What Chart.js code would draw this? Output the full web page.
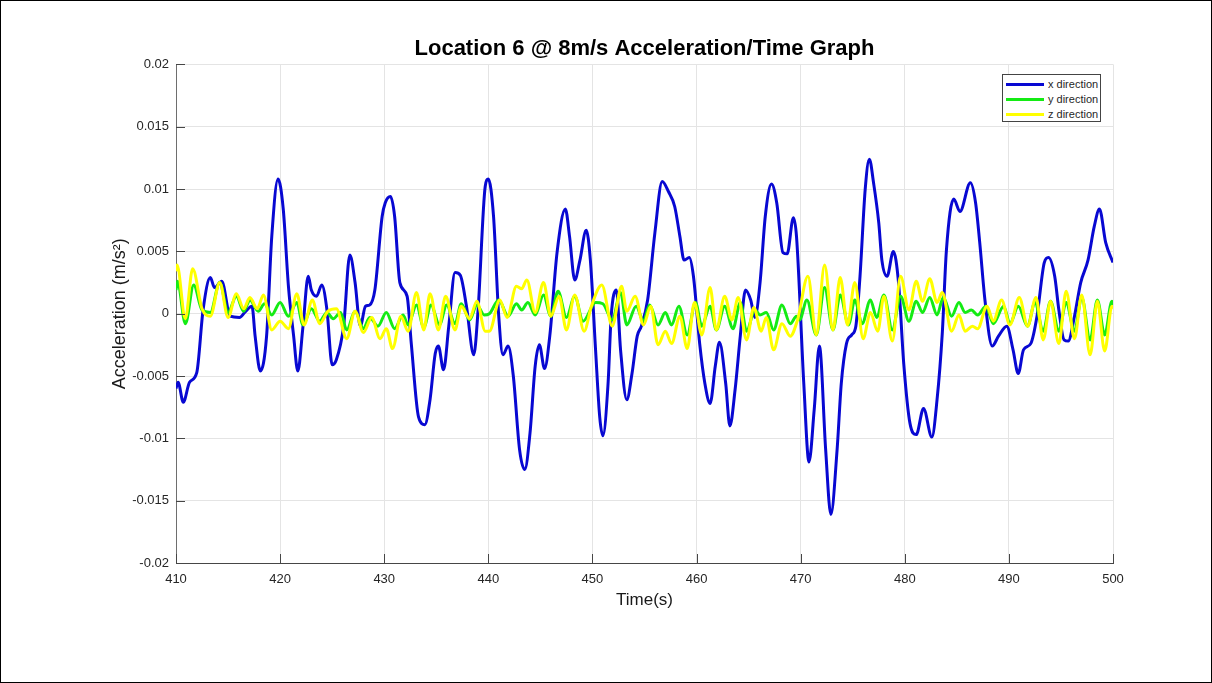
<!DOCTYPE html>
<html>
<head>
<meta charset="utf-8">
<script src="https://cdn.jsdelivr.net/npm/chart.js@4.4.1/dist/chart.umd.min.js"></script>
<style>
  html, body { margin: 0; padding: 0; background: #fff; }
  #wrap { position: relative; width: 1212px; height: 683px; overflow: hidden; }
  #frame { position: absolute; left: 0; top: 0; width: 1210px; height: 681px; border: 1px solid #000; pointer-events: none; }
  #legend { position: absolute; left: 1002px; top: 74px; width: 97px; height: 46px; border: 1px solid #444; background: #fff;
            font-family: 'Liberation Sans', Arial, Helvetica, sans-serif; font-size: 11px; color: #262626; }
  .item { position: absolute; left: 3px; height: 14px; line-height: 14px; white-space: nowrap; }
  .swatch { display: inline-block; width: 38px; height: 3px; vertical-align: middle; margin-right: 4px; position: relative; top: -1px; }
</style>
</head>
<body>
<div id="wrap">
  <canvas id="c" width="1212" height="683"></canvas>
  <div id="legend"></div>
  <div id="frame"></div>
</div>
<script>
// ---------------- data ----------------
const chartTitle = 'Location 6 @ 8m/s Acceleration/Time Graph';
const xAxisTitle = 'Time(s)';
const yAxisTitle = 'Acceleration (m/s\u00B2)';
const seriesNames = ['x direction', 'y direction', 'z direction'];
const seriesColors = ['rgb(8,8,210)', 'rgb(20,235,20)', 'rgb(255,255,0)'];

const xDirTime = [410.0,410.2,410.7,411.3,412.0,412.6,413.3,413.7,414.4,415.2,416.1,416.6,417.3,417.6,418.1,418.7,419.2,419.8,420.3,420.8,421.3,421.7,422.2,422.7,423.0,423.5,424.0,424.5,425.0,425.4,426.1,426.7,427.2,427.7,428.2,428.6,429.1,429.8,430.1,430.6,431.0,431.5,432.2,432.6,433.3,433.9,434.4,434.9,435.2,435.7,436.2,436.8,437.3,437.9,438.6,439.0,439.7,440.0,440.5,441.0,441.4,441.9,442.4,443.0,443.5,444.0,444.5,444.9,445.4,445.9,446.6,447.4,447.8,448.3,448.8,449.4,449.8,450.3,450.7,451.0,451.5,451.8,452.3,452.7,453.3,453.8,454.3,454.7,455.3,456.0,456.7,457.3,457.9,458.4,458.8,459.3,459.7,460.3,460.8,461.3,461.8,462.2,462.8,463.2,463.7,464.2,464.7,465.2,465.6,466.1,466.6,467.2,467.7,468.3,468.7,469.3,469.6,470.3,470.8,471.3,471.8,472.4,472.9,473.5,473.9,474.4,474.9,475.3,475.7,476.2,476.6,477.0,477.5,477.8,478.3,478.9,479.4,479.9,480.5,481.1,481.8,482.6,483.1,483.6,484.0,484.7,485.3,486.3,486.8,487.2,487.7,488.4,489.0,489.8,490.4,490.9,491.4,492.1,492.7,493.4,493.8,494.4,494.8,495.3,495.7,496.3,496.9,497.6,498.2,498.7,499.3,500.0];
const xDirAccel = [-0.0060,-0.0055,-0.0071,-0.0055,-0.0047,0.0003,0.0029,0.0021,0.0026,-0.0002,-0.0003,0.0001,0.0006,-0.0018,-0.0046,-0.0018,0.0062,0.0108,0.0084,0.0022,-0.0018,-0.0046,-0.0010,0.0030,0.0019,0.0014,0.0023,0.0003,-0.0041,-0.0037,-0.0010,0.0047,0.0025,-0.0010,0.0006,0.0007,0.0019,0.0078,0.0089,0.0094,0.0078,0.0025,0.0014,-0.0024,-0.0083,-0.0089,-0.0069,-0.0032,-0.0026,-0.0045,-0.0010,0.0033,0.0031,0.0006,-0.0033,0.0001,0.0102,0.0108,0.0078,-0.0002,-0.0033,-0.0026,-0.0050,-0.0109,-0.0125,-0.0096,-0.0042,-0.0025,-0.0044,-0.0018,0.0049,0.0084,0.0062,0.0027,0.0043,0.0067,0.0043,-0.0029,-0.0083,-0.0098,-0.0056,-0.0002,0.0019,-0.0029,-0.0069,-0.0048,-0.0018,-0.0010,0.0011,0.0065,0.0106,0.0098,0.0086,0.0062,0.0043,0.0045,0.0030,-0.0024,-0.0056,-0.0072,-0.0042,-0.0023,-0.0056,-0.0090,-0.0061,-0.0018,0.0019,0.0011,-0.0003,0.0025,0.0078,0.0104,0.0089,0.0049,0.0048,0.0077,0.0062,-0.0056,-0.0119,-0.0077,-0.0026,-0.0109,-0.0161,-0.0109,-0.0056,-0.0024,-0.0017,-0.0010,0.0030,0.0100,0.0124,0.0105,0.0073,0.0043,0.0030,0.0050,0.0025,-0.0040,-0.0088,-0.0097,-0.0076,-0.0099,-0.0069,-0.0016,0.0051,0.0092,0.0082,0.0105,0.0089,0.0057,0.0011,-0.0026,-0.0018,-0.0010,-0.0029,-0.0048,-0.0029,-0.0024,-0.0002,0.0041,0.0045,0.0030,0.0003,-0.0021,-0.0022,-0.0002,0.0025,0.0043,0.0070,0.0084,0.0057,0.0041];

const yDirTime = [410.0,410.15,410.9,411.7,412.5,413.3,414.2,415.0,415.8,416.5,417.1,417.9,418.5,419.2,420.0,420.8,421.6,422.2,423.0,423.8,424.5,425.1,425.8,426.4,427.2,428.0,428.6,429.4,430.2,431.0,431.8,432.3,433.1,433.8,434.5,435.3,436.0,436.8,437.4,438.2,438.9,439.6,440.1,441.0,441.9,442.7,443.2,443.8,444.5,445.3,446.0,446.7,447.5,448.3,449.1,450.3,451.0,451.9,452.7,453.3,454.2,454.9,455.5,456.3,457.0,457.6,458.3,459.1,459.9,460.5,461.3,461.9,462.7,463.5,464.2,464.8,465.6,466.1,466.7,467.4,468.2,469.0,469.6,469.9,470.6,471.5,472.3,473.1,473.8,474.6,475.2,475.9,476.7,477.3,478.0,478.8,479.6,480.4,481.1,481.7,482.4,483.1,483.7,484.5,485.2,485.8,486.4,487.0,487.8,488.5,489.5,490.1,490.9,491.8,492.5,493.3,494.0,494.8,495.5,496.3,497.0,497.8,498.5,499.2,499.9,500.0];
const yDirAccel = [0.0019,0.0026,-0.0008,0.0023,0.0003,0.0001,0.0025,0.0001,0.0014,0.0002,0.0011,0.0002,0.0008,-0.0001,0.0009,-0.0002,0.0009,-0.0009,0.0004,-0.0006,0.0001,-0.0004,0.0001,-0.0013,0.0002,-0.0012,-0.0003,-0.0010,0.0001,-0.0012,-0.0001,-0.0009,0.0007,-0.0011,0.0007,-0.0009,0.0007,-0.0008,0.0008,-0.0005,0.0007,-0.0001,0.0000,0.0011,-0.0002,0.0008,0.0003,0.0009,-0.0001,0.0015,-0.0002,0.0018,-0.0003,0.0014,-0.0006,0.0009,0.0008,-0.0005,0.0017,-0.0009,0.0006,-0.0006,0.0007,-0.0009,0.0001,-0.0009,0.0006,-0.0017,0.0009,-0.0010,0.0006,-0.0013,0.0006,-0.0012,0.0009,-0.0014,0.0003,-0.0001,0.0001,-0.0013,0.0007,-0.0008,-0.0002,-0.0005,0.0011,-0.0017,0.0021,-0.0013,0.0015,-0.0009,0.0011,-0.0008,0.0011,-0.0003,0.0015,-0.0013,0.0014,-0.0006,0.0010,0.0001,0.0013,-0.0001,0.0013,-0.0002,0.0009,0.0001,0.0003,-0.0001,0.0006,-0.0008,0.0006,-0.0008,0.0006,-0.0010,0.0009,-0.0014,0.0010,-0.0014,0.0009,-0.0014,0.0013,-0.0021,0.0011,-0.0017,0.0010,0.0007];

const zDirTime = [410.0,410.1,410.9,411.6,412.5,413.3,414.2,415.0,415.8,416.5,417.1,417.8,418.4,419.2,420.0,420.8,421.6,422.3,423.1,423.8,424.6,425.4,426.4,427.2,428.0,428.8,429.6,430.2,430.8,431.6,432.3,433.1,433.8,434.4,435.2,435.9,436.8,437.4,438.2,438.9,439.7,440.1,441.1,441.8,442.7,443.2,443.7,444.5,445.3,446.0,446.8,447.5,448.3,449.2,449.9,450.9,451.9,452.8,453.3,454.1,454.9,455.6,456.3,457.0,457.6,458.4,459.1,459.8,460.5,461.3,461.9,462.7,463.4,464.0,464.8,465.5,466.2,466.7,467.4,468.2,469.0,469.7,470.7,471.5,472.3,473.1,473.8,474.5,475.2,476.0,476.7,477.4,478.0,478.8,479.6,480.4,481.1,481.7,482.4,483.1,483.6,484.5,485.2,485.8,486.5,487.0,487.9,488.5,489.3,490.1,491.0,491.8,492.6,493.3,494.0,494.8,495.5,496.3,497.0,497.8,498.5,499.2,499.9,500.0];
const zDirAccel = [0.0034,0.0039,-0.0004,0.0036,0.0004,-0.0002,0.0025,-0.0003,0.0016,0.0004,0.0013,0.0004,0.0015,-0.0013,-0.0006,-0.0012,0.0016,-0.0009,0.0011,-0.0008,0.0002,0.0004,-0.0020,0.0002,-0.0015,-0.0003,-0.0020,-0.0012,-0.0028,-0.0002,-0.0014,0.0017,-0.0013,0.0016,-0.0013,0.0014,-0.0013,0.0006,-0.0004,0.0010,-0.0014,-0.0014,0.0011,-0.0003,0.0022,0.0020,0.0027,0.0001,0.0025,-0.0002,0.0014,-0.0013,0.0015,-0.0014,0.0006,0.0023,-0.0010,0.0022,0.0002,0.0014,-0.0009,0.0006,-0.0025,-0.0014,-0.0024,-0.0002,-0.0028,0.0009,-0.0017,0.0021,-0.0013,0.0014,-0.0005,0.0013,-0.0021,0.0005,-0.0014,-0.0003,-0.0029,-0.0008,-0.0018,-0.0005,0.0030,-0.0017,0.0039,-0.0013,0.0029,-0.0009,0.0025,-0.0020,0.0001,-0.0014,0.0014,-0.0022,0.0030,0.0003,0.0026,0.0010,0.0028,0.0009,0.0017,-0.0014,-0.0001,-0.0014,-0.0010,-0.0012,0.0006,-0.0006,0.0011,-0.0009,0.0013,-0.0010,0.0013,-0.0021,0.0010,-0.0024,0.0018,-0.0020,0.0015,-0.0033,0.0010,-0.0030,0.0006,0.0004];

const xTickValues = [410, 420, 430, 440, 450, 460, 470, 480, 490, 500];
const yTickValues = [-0.02, -0.015, -0.01, -0.005, 0, 0.005, 0.01, 0.015, 0.02];

// ---------------- chart ----------------
const FONT = "'Liberation Sans', Arial, Helvetica, sans-serif";
const toPoints = (ts, vs) => ts.map((t, i) => ({ x: t, y: vs[i] }));
const seriesTimes = [xDirTime, yDirTime, zDirTime];
const seriesValues = [xDirAccel, yDirAccel, zDirAccel];

const datasets = seriesNames.map((name, i) => ({
  label: name,
  data: toPoints(seriesTimes[i], seriesValues[i]),
  borderColor: seriesColors[i],
  backgroundColor: seriesColors[i],
  borderWidth: 3,
  pointRadius: 0,
  cubicInterpolationMode: 'monotone',
  order: 3 - i
}));

const inwardTicks = {
  id: 'inwardTicks',
  afterDatasetsDraw(chart) {
    const { ctx, chartArea, scales } = chart;
    const len = 9;
    ctx.save();
    ctx.strokeStyle = 'rgb(70,70,70)';
    ctx.lineWidth = 1;
    ctx.beginPath();
    xTickValues.forEach(v => {
      const px = Math.round(scales.x.getPixelForValue(v)) + 0.5;
      ctx.moveTo(px, chartArea.bottom);
      ctx.lineTo(px, chartArea.bottom - len);
    });
    yTickValues.forEach(v => {
      const py = Math.round(scales.y.getPixelForValue(v)) + 0.5;
      ctx.moveTo(chartArea.left, py);
      ctx.lineTo(chartArea.left + len, py);
    });
    ctx.stroke();
    ctx.restore();
  }
};

new Chart(document.getElementById('c'), {
  type: 'line',
  data: { datasets },
  plugins: [inwardTicks],
  options: {
    responsive: false,
    animation: false,
    events: [],
    layout: { padding: { left: 0, top: 0, right: 99, bottom: 0 } },
    plugins: {
      legend: { display: false },
      tooltip: { enabled: false },
      title: {
        display: true,
        text: chartTitle,
        fullSize: false,
        color: '#000',
        font: { family: FONT, size: 22, weight: 'bold', lineHeight: 1.2 },
        padding: { top: 36, bottom: 2 }
      }
    },
    scales: {
      x: {
        type: 'linear',
        min: 410, max: 500,
        afterBuildTicks: s => { s.ticks = xTickValues.map(v => ({ value: v })); },
        afterFit: s => { s.height = 120; },
        ticks: { color: '#262626', font: { family: FONT, size: 13 }, padding: 9, maxRotation: 0, autoSkip: false },
        grid: { color: '#e4e4e4', drawTicks: false },
        border: { display: true, color: 'rgb(70,70,70)', width: 1 },
        title: { display: true, text: xAxisTitle, color: '#1a1a1a', font: { family: FONT, size: 17, lineHeight: 1.2 }, padding: { top: 0, bottom: 72 } }
      },
      y: {
        type: 'linear',
        min: -0.02, max: 0.02,
        afterBuildTicks: s => { s.ticks = yTickValues.map(v => ({ value: v })); },
        afterFit: s => { s.width = 176; },
        ticks: {
          color: '#262626', font: { family: FONT, size: 13 }, padding: 7, autoSkip: false,
          callback: v => String(Number(v.toFixed(3)))
        },
        grid: { color: '#e4e4e4', drawTicks: false },
        border: { display: true, color: 'rgb(110,110,110)', width: 1 },
        title: { display: true, text: yAxisTitle, color: '#1a1a1a', font: { family: FONT, size: 18, lineHeight: 1.2 }, padding: { top: 109, bottom: 0 } }
      }
    }
  }
});

// ---------------- legend (HTML overlay) ----------------
const legend = document.getElementById('legend');
seriesNames.forEach((name, i) => {
  const row = document.createElement('div');
  row.className = 'item';
  row.style.top = (2 + i * 15) + 'px';
  const sw = document.createElement('span');
  sw.className = 'swatch';
  sw.style.background = seriesColors[i];
  row.appendChild(sw);
  row.appendChild(document.createTextNode(name));
  legend.appendChild(row);
});
</script>
</body>
</html>
